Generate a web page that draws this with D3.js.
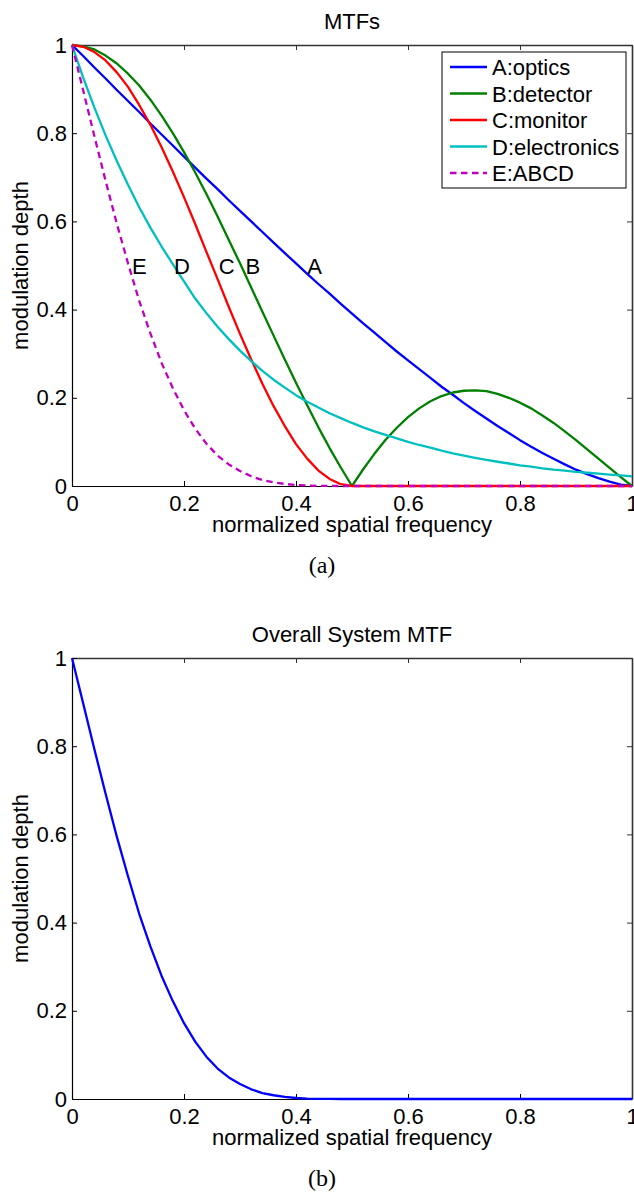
<!DOCTYPE html>
<html><head><meta charset="utf-8">
<script src="https://cdn.jsdelivr.net/npm/d3@7"></script>
<style>
body{margin:0;background:#fff}
svg{display:block}
text{font-family:"Liberation Sans",Arial,Helvetica,sans-serif}
</style></head><body>
<svg id="c" width="634" height="1193"></svg>
<script>
// ---- data ----
const freq=[0,0.02,0.04,0.06,0.08,0.10,0.12,0.14,0.16,0.18,0.20,0.22,0.24,0.26,0.28,0.30,0.32,0.34,0.36,0.38,0.40,0.42,0.44,0.46,0.48,0.50,0.52,0.54,0.56,0.58,0.60,0.62,0.64,0.66,0.68,0.70,0.72,0.74,0.76,0.78,0.80,0.82,0.84,0.86,0.88,0.90,0.92,0.94,0.96,0.98,1.00];
const optics=[1,0.975,0.949,0.924,0.898,0.873,0.848,0.822,0.797,0.772,0.747,0.722,0.697,0.673,0.648,0.624,0.600,0.576,0.552,0.528,0.505,0.481,0.458,0.436,0.413,0.391,0.369,0.348,0.326,0.305,0.285,0.265,0.245,0.225,0.207,0.188,0.170,0.153,0.136,0.120,0.104,0.089,0.075,0.062,0.049,0.037,0.027,0.018,0.010,0.003,0];
const detector=[1,0.997,0.990,0.976,0.958,0.935,0.908,0.876,0.840,0.800,0.757,0.711,0.662,0.611,0.558,0.505,0.450,0.395,0.341,0.287,0.234,0.183,0.133,0.086,0.042,0,0.038,0.073,0.105,0.132,0.156,0.176,0.192,0.204,0.212,0.216,0.217,0.215,0.209,0.200,0.189,0.176,0.160,0.143,0.124,0.104,0.083,0.062,0.041,0.020,0];
const monitor=[1,0.996,0.984,0.965,0.938,0.905,0.864,0.819,0.768,0.713,0.655,0.594,0.531,0.469,0.406,0.345,0.287,0.232,0.181,0.136,0.095,0.062,0.035,0.016,0.004,0,0,0,0,0,0,0,0,0,0,0,0,0,0,0,0,0,0,0,0,0,0,0,0,0,0];
const electronics=[1,0.926,0.858,0.795,0.737,0.683,0.632,0.586,0.543,0.503,0.464,0.425,0.392,0.361,0.333,0.307,0.283,0.261,0.241,0.223,0.206,0.191,0.178,0.165,0.154,0.143,0.133,0.124,0.116,0.108,0.100,0.093,0.087,0.080,0.074,0.069,0.064,0.059,0.055,0.051,0.047,0.044,0.040,0.037,0.035,0.032,0.030,0.028,0.026,0.024,0.022];
const abcd=[1,0.897,0.793,0.692,0.595,0.505,0.420,0.346,0.279,0.222,0.172,0.130,0.096,0.069,0.049,0.034,0.022,0.0135,0.0085,0.0047,0.0023,0.001,0.0004,0.0001,0,0,0,0,0,0,0,0,0,0,0,0,0,0,0,0,0,0,0,0,0,0,0,0,0,0,0];
const systemMTF=[1,0.897,0.793,0.692,0.595,0.505,0.420,0.346,0.279,0.222,0.172,0.130,0.096,0.069,0.049,0.034,0.022,0.0135,0.0085,0.0047,0.0023,0.001,0.0004,0.0001,0,0,0,0,0,0,0,0,0,0,0,0,0,0,0,0,0,0,0,0,0,0,0,0,0,0,0];
const seriesNames=["A:optics","B:detector","C:monitor","D:electronics","E:ABCD"];
const curveLetters=["A","B","C","D","E"];
const letterFreq=[0.42,0.31,0.262,0.182,0.107];
const letterDepth=0.5;
const xTicks=[0,0.2,0.4,0.6,0.8,1];
const yTicks=[0,0.2,0.4,0.6,0.8,1];
const titles=["MTFs","Overall System MTF"];
const captions=["(a)","(b)"];
const xLabel="normalized spatial frequency";
const yLabel="modulation depth";

// ---- styles ----
const colors=["#0000ff","#008000","#ff0000","#00bfbf","#bf00bf"];
const dashes=[null,null,null,null,"6.5,4.5"];
const LW=2.3, FS=22;

const svg=d3.select("#c");
const L=72,R=632,PH=441;
const x=d3.scaleLinear().domain([0,1]).range([L,R]);
const fmt=d3.format("~g");

function panel(top, title, caption, series, showLegend, letters){
  const y=d3.scaleLinear().domain([0,1]).range([top+PH,top]);
  const g=svg.append("g");
  const bx=g.append("g").attr("transform",`translate(0,${top+PH})`)
    .call(d3.axisBottom(x).tickValues(xTicks).tickFormat(fmt).tickSize(-5).tickSizeOuter(0).tickPadding(9));
  const tx=g.append("g").attr("transform",`translate(0,${top})`)
    .call(d3.axisTop(x).tickValues(xTicks).tickFormat("").tickSize(-5).tickSizeOuter(0));
  const ly=g.append("g").attr("transform",`translate(${L},0)`)
    .call(d3.axisLeft(y).tickValues(yTicks).tickFormat(fmt).tickSize(-5).tickSizeOuter(0).tickPadding(5));
  const ry=g.append("g").attr("transform",`translate(${R},0)`)
    .call(d3.axisRight(y).tickValues(yTicks).tickFormat("").tickSize(-5).tickSizeOuter(0));
  g.selectAll(".tick text").attr("font-size",FS).attr("fill","#000").style("font-family",'"Liberation Sans",Arial,sans-serif');
  [bx,ly].forEach(a=>{a.select(".domain").attr("stroke","#000").attr("stroke-width",1.2);a.selectAll(".tick line").attr("stroke","#000");});
  [tx,ry].forEach(a=>{a.select(".domain").attr("stroke","#333").attr("stroke-width",1.6);a.selectAll(".tick line").attr("stroke","#333");});
  series.forEach(s=>{
    const line=d3.line().x((d,i)=>x(freq[i])).y(d=>y(d));
    g.append("path").datum(s.values).attr("d",line).attr("fill","none")
      .attr("stroke",s.color).attr("stroke-width",LW).attr("stroke-dasharray",s.dash)
      .attr("stroke-linejoin","round");
  });
  g.append("text").attr("x",(L+R)/2).attr("y",top-16).attr("text-anchor","middle").attr("font-size",FS).text(title);
  g.append("text").attr("x",(L+R)/2).attr("y",top+PH+46).attr("text-anchor","middle").attr("font-size",FS).text(xLabel);
  g.append("text").attr("transform",`translate(28,${top+PH/2}) rotate(-90)`).attr("text-anchor","middle").attr("font-size",FS).text(yLabel);
  g.append("text").attr("x",322).attr("y",top+PH+87).attr("text-anchor","middle").attr("font-size",24)
    .style("font-family",'"Liberation Serif","Times New Roman",serif').text(caption);
  if(letters){
    letters.forEach((t,i)=>{
      g.append("text").attr("x",x(letterFreq[i])).attr("y",y(letterDepth)+8).attr("font-size",FS).text(t);
    });
  }
  if(showLegend){
    const lg=g.append("g");
    const lx=442,ly0=52,lw=184,rowH=26.5,firstRow=67;
    lg.append("rect").attr("x",lx).attr("y",ly0).attr("width",lw).attr("height",136)
      .attr("fill","#fff").attr("stroke","#000").attr("stroke-width",1);
    series.forEach((s,i)=>{
      const yy=firstRow+i*rowH;
      lg.append("line").attr("x1",450).attr("x2",487).attr("y1",yy).attr("y2",yy)
        .attr("stroke",s.color).attr("stroke-width",LW).attr("stroke-dasharray",s.dash);
      lg.append("text").attr("x",492).attr("y",yy+8).attr("font-size",FS).text(s.name);
    });
  }
}

const topSeries=[optics,detector,monitor,electronics,abcd].map((v,i)=>({values:v,name:seriesNames[i],color:colors[i],dash:dashes[i]}));
panel(45,titles[0],captions[0],topSeries,true,curveLetters);
panel(658,titles[1],captions[1],[{values:systemMTF,name:"",color:colors[0],dash:null}],false,null);
</script>
</body></html>
